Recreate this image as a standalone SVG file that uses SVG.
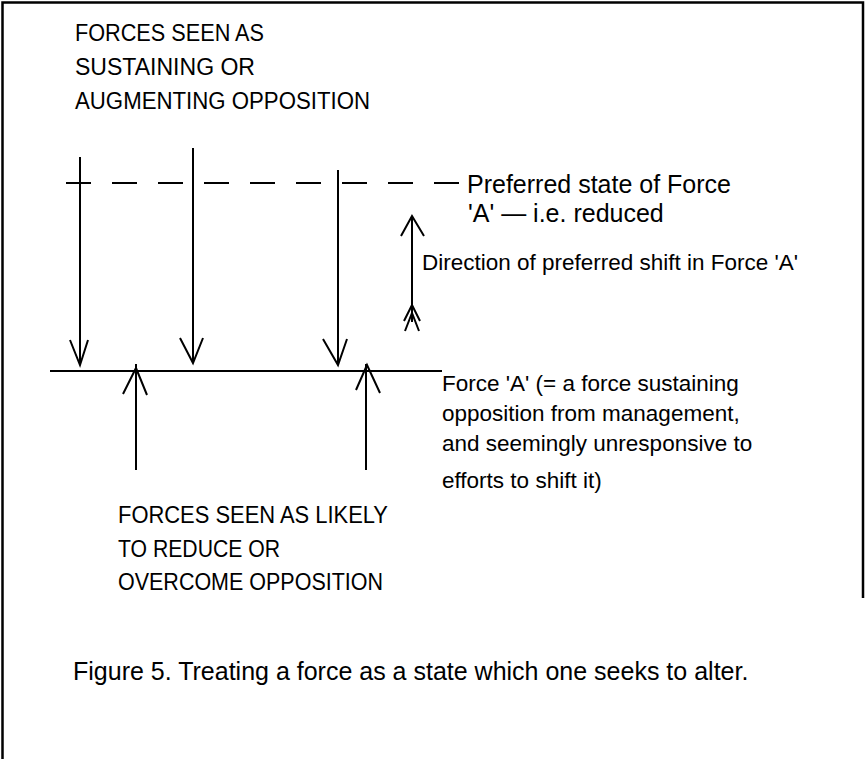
<svg xmlns="http://www.w3.org/2000/svg" width="866" height="759" viewBox="0 0 866 759">
<style>
.ln{stroke:#000;stroke-width:2;fill:none}
.bd{stroke:#000;stroke-width:2.5;fill:none}
.dash{stroke:#000;stroke-width:2;stroke-dasharray:25 21;fill:none}
.t{font-family:"Liberation Sans",Arial,sans-serif;fill:#000}
.cap{font-size:23.5px}
.lab{font-size:22.5px}
.big{font-size:25px}
</style>
<rect width="866" height="759" fill="#fff"/>
<g id="frame">
<path class="bd" d="M2.5,759 L2.5,2.5 L863,2.5 L863,598"/>
</g>
<g id="connectors">
<path class="dash" d="M66,183 H460"/>
<path class="ln" d="M50,371 H442"/>
<path class="ln" d="M80,157 V365 M70,340 L80,365 L88,340"/>
<path class="ln" d="M193,148 V363 M180,338 L193,363 L203,338"/>
<path class="ln" d="M338,170 V365 M323,339 L338,365 L347,339"/>
<path class="ln" d="M136,470 V364 M123,394 L136,368 L147,395"/>
<path class="ln" d="M366,470 V364 M356,390 L367,365 L380,393"/>
<path class="ln" d="M412,216 V322 M401,236 L412,216 L424,236 M404,321 L412,305 L420,321 M405,331 L412,313 L419,331"/>
</g>
<g id="top-label">
<text class="t cap" x="75" y="41" textLength="189" lengthAdjust="spacingAndGlyphs">FORCES SEEN AS</text>
<text class="t cap" x="75" y="75" textLength="180" lengthAdjust="spacingAndGlyphs">SUSTAINING OR</text>
<text class="t cap" x="75" y="109" textLength="295" lengthAdjust="spacingAndGlyphs">AUGMENTING OPPOSITION</text>
</g>
<g id="preferred-label">
<text class="t big" x="467" y="193">Preferred state of Force</text>
<text class="t big" x="468" y="222">'A' — i.e. reduced</text>
</g>
<g id="direction-label">
<text class="t lab" x="422" y="270" textLength="376" lengthAdjust="spacingAndGlyphs">Direction of preferred shift in Force 'A'</text>
</g>
<g id="forceA-label">
<text class="t lab" x="442" y="391">Force 'A' (= a force sustaining</text>
<text class="t lab" x="442" y="421">opposition from management,</text>
<text class="t lab" x="442" y="451">and seemingly unresponsive to</text>
<text class="t lab" x="442" y="488">efforts to shift it)</text>
</g>
<g id="bottom-label">
<text class="t cap" x="118" y="523" textLength="270" lengthAdjust="spacingAndGlyphs">FORCES SEEN AS LIKELY</text>
<text class="t cap" x="118" y="557" textLength="162" lengthAdjust="spacingAndGlyphs">TO REDUCE OR</text>
<text class="t cap" x="118" y="590" textLength="265" lengthAdjust="spacingAndGlyphs">OVERCOME OPPOSITION</text>
</g>
<g id="caption">
<text class="t big" x="73" y="680">Figure 5. Treating a force as a state which one seeks to alter.</text>
</g>
</svg>
